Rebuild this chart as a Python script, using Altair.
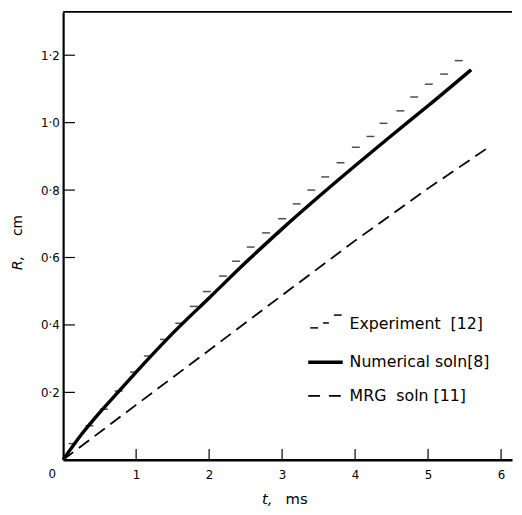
import altair as alt
import pandas as pd

# ---- data ----
exp_t = [0.13, 0.36, 0.56, 0.76, 0.97, 1.16, 1.38, 1.59, 1.79, 1.97, 2.19, 2.37, 2.57, 2.78,
         3.00, 3.20, 3.40, 3.59, 3.80, 4.01, 4.21, 4.39, 4.62, 4.81, 5.01, 5.22, 5.42]
exp_R = [0.048, 0.101, 0.150, 0.204, 0.260, 0.308, 0.357, 0.405, 0.455, 0.499, 0.545, 0.589,
         0.631, 0.673, 0.715, 0.759, 0.800, 0.839, 0.881, 0.927, 0.959, 0.998, 1.035, 1.076,
         1.114, 1.144, 1.184]

num_t = [0, 0.25, 0.5, 0.75, 1.0, 1.5, 2.0, 2.5, 3.0, 3.5, 4.0, 4.5, 5.0, 5.59]
num_R = [0, 0.075, 0.14, 0.20, 0.26, 0.375, 0.48, 0.585, 0.685, 0.78, 0.872, 0.962, 1.05, 1.157]

mrg_t = [0, 1, 2, 3, 4, 5, 5.85]
mrg_R = [0, 0.163, 0.325, 0.488, 0.65, 0.805, 0.93]

x_ticks = [1, 2, 3, 4, 5, 6]
y_ticks = [0.2, 0.4, 0.6, 0.8, 1.0, 1.2]

legend_labels = ["Experiment\u00a0\u00a0[12]", "Numerical soln[8]", "MRG\u00a0\u00a0soln\u00a0[11]"]
x_title = ["t,", "ms"]
y_title = ["R,", "cm"]

# ---- layout ----
W, H = 456, 455
FONT = "DejaVu Sans"
INK = "black"

exp_df = pd.DataFrame({"t": exp_t, "R": exp_R})
num_df = pd.DataFrame({"t": num_t, "R": num_R})
mrg_df = pd.DataFrame({"t": mrg_t, "R": mrg_R})
xt_df = pd.DataFrame({"t": x_ticks})
yt_df = pd.DataFrame({"R": y_ticks})
one = pd.DataFrame({"k": [0]})

X = alt.X("t:Q",
          scale=alt.Scale(domain=[0, 6.15], nice=False, zero=False),
          axis=alt.Axis(values=x_ticks, ticks=False, tickSize=0, grid=False, title=None,
                        labelPadding=10, labelFont=FONT, labelFontSize=12, labelColor=INK,
                        domainColor=INK, domainWidth=2.5))
Y = alt.Y("R:Q",
          scale=alt.Scale(domain=[0, 1.3285], nice=False),
          axis=alt.Axis(values=y_ticks, ticks=False, tickSize=0, grid=False, title=None,
                        labelPadding=4, labelFont=FONT, labelFontSize=12, labelColor=INK,
                        labelExpr="replace(format(datum.value, '.1f'), '.', '·')",
                        domainColor=INK, domainWidth=2.2))

num_line = alt.Chart(num_df).mark_line(color=INK, strokeWidth=3.5, interpolate="monotone").encode(
    x=X, y=Y, order="t:Q")
mrg_line = alt.Chart(mrg_df).mark_line(color=INK, strokeWidth=1.8, strokeDash=[13, 7]).encode(
    x=X, y=Y, order="t:Q")
exp_pts = alt.Chart(exp_df).mark_tick(orient="horizontal", color=INK, size=8, thickness=1.5).encode(
    x=X, y=Y)

ytk = alt.Chart(yt_df).mark_rule(color=INK, strokeWidth=1.2).encode(
    y=Y, x=alt.value(0), x2=alt.value(12))
xtk = alt.Chart(xt_df).mark_rule(color=INK, strokeWidth=1.2).encode(
    x=X, y=alt.value(H), y2=alt.value(H - 11))

top_border = alt.Chart(one).mark_rule(color=INK, strokeWidth=2).encode(
    x=alt.value(0), x2=alt.value(W), y=alt.value(0))

def txt(s, x, y, size=11, style="normal", angle=0, align="left"):
    return alt.Chart(one).mark_text(text=s, font=FONT, fontSize=size, fontStyle=style,
                                    color=INK, align=align, baseline="middle",
                                    angle=angle).encode(x=alt.value(x), y=alt.value(y))

origin_lbl = txt("0", -11, 469, size=12, align="center")
xt1 = txt(x_title[0], 202, 495, size=15, style="italic")
xt2 = txt(x_title[1], 226, 495, size=15)
yt1 = txt(y_title[0], -46, 255, size=14, style="italic", angle=270, align="center")
yt2 = txt(y_title[1], -46, 217, size=14, angle=270, align="center")

leg_txt = [txt(legend_labels[0], 291, 317, size=16),
           txt(legend_labels[1], 291, 356, size=16),
           txt(legend_labels[2], 291, 390, size=16)]

def seg(x1, x2, y, width, dash=None):
    kw = dict(color=INK, strokeWidth=width)
    if dash:
        kw["strokeDash"] = dash
    return alt.Chart(one).mark_rule(**kw).encode(x=alt.value(x1), x2=alt.value(x2), y=alt.value(y))

leg_sym = [seg(251, 259, 321, 1.5), seg(264, 270, 316, 1.5), seg(275, 283, 308, 1.5),
           seg(249, 284, 356, 3.5),
           seg(249, 286, 390, 1.8, [12, 9])]

chart = alt.layer(
    mrg_line, num_line, exp_pts, ytk, xtk, top_border, origin_lbl,
    xt1, xt2, yt1, yt2, *leg_txt, *leg_sym
).properties(
    width=W, height=H,
    padding={"left": 56, "top": 0, "right": 2, "bottom": 44},
    autosize=alt.AutoSizeParams(type="none"),
).configure_view(stroke=None)

chart.save("out.html", embed_options={"renderer": "svg", "actions": False})
